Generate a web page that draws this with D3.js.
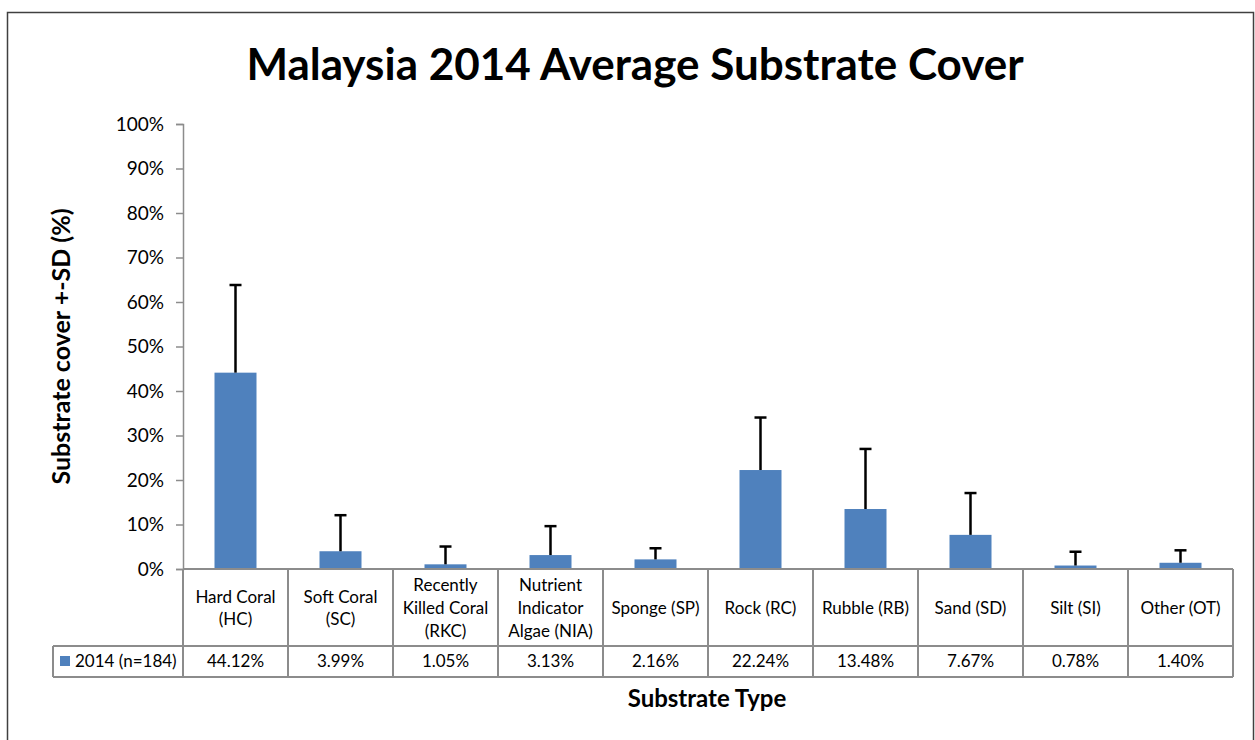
<!DOCTYPE html>
<html>
<head>
<meta charset="utf-8">
<script src="https://cdn.jsdelivr.net/npm/d3@7"></script>
<style>
  body { margin: 0; background: #fff; }
  text { font-family: Lato, "Open Sans", sans-serif; fill: #000; }
</style>
</head>
<body>
<div id="chart"></div>
<script>
    var svgWidth = 1255;
    var svgHeight = 740;

    // chart data
    var categories = ["Hard Coral\n(HC)", "Soft Coral\n(SC)", "Recently\nKilled Coral\n(RKC)",
      "Nutrient\nIndicator\nAlgae (NIA)", "Sponge (SP)", "Rock (RC)", "Rubble (RB)",
      "Sand (SD)", "Silt (SI)", "Other (OT)"];
    var seriesName = "2014 (n=184)";
    var meanValues = [44.12, 3.99, 1.05, 3.13, 2.16, 22.24, 13.48, 7.67, 0.78, 1.40];
    var sdValues = [19.7, 8.1, 4.0, 6.5, 2.5, 11.8, 13.5, 9.4, 3.1, 2.8];
    var yTicks = [0, 10, 20, 30, 40, 50, 60, 70, 80, 90, 100];

    var plot = { left: 183, right: 1233, top: 124, bottom: 569 };
    var table = { left: 53, rowSplit: 646, bottom: 677 };
    var gridColor = "#8c8c8c";
    var barColor = "#4f81bd";

    var svg = d3.select("#chart")
      .append("svg")
      .attr("width", svgWidth)
      .attr("height", svgHeight);

    // outer chart border
    svg.append("rect")
      .attr("x", 7.5)
      .attr("y", 12.5)
      .attr("width", 1246)
      .attr("height", 760)
      .attr("fill", "none")
      .attr("stroke", "#404040")
      .attr("stroke-width", 1.5);

    // title
    svg.append("text")
      .attr("x", 635)
      .attr("y", 80)
      .attr("text-anchor", "middle")
      .attr("font-size", "44px")
      .attr("font-weight", "bold")
      .text("Malaysia 2014 Average Substrate Cover");

    // scales
    var xCell = d3.scaleBand()
      .domain(categories)
      .range([plot.left, plot.right])
      .padding(0);

    var xBar = d3.scaleBand()
      .domain(categories)
      .range([plot.left, plot.right])
      .paddingInner(0.6)
      .paddingOuter(0.3);

    var yScale = d3.scaleLinear()
      .domain([0, 100])
      .range([plot.bottom, plot.top]);

    // y axis
    var leftAxis = d3.axisLeft(yScale)
      .tickValues(yTicks)
      .tickFormat(d => d + "%")
      .tickSizeInner(7)
      .tickSizeOuter(7)
      .tickPadding(12);

    var yAxis = svg.append("g")
      .attr("transform", `translate(${plot.left}, 0)`)
      .call(leftAxis);

    yAxis.selectAll("path, line")
      .attr("stroke", gridColor)
      .attr("stroke-width", 1.5);
    yAxis.selectAll("text")
      .attr("font-family", "Lato, sans-serif")
      .attr("font-size", "19px")
      .attr("fill", "#000");

    // y axis title
    svg.append("text")
      .attr("transform", `translate(70, ${(plot.top + plot.bottom) / 2}) rotate(-90)`)
      .attr("text-anchor", "middle")
      .attr("font-size", "25px")
      .attr("font-weight", "bold")
      .text("Substrate cover +-SD (%)");

    var data = categories.map((c, i) => ({ cat: c, mean: meanValues[i], sd: sdValues[i] }));

    // bars
    svg.append("g").selectAll("rect")
      .data(data)
      .enter()
      .append("rect")
      .attr("x", d => xBar(d.cat))
      .attr("y", d => yScale(d.mean))
      .attr("width", xBar.bandwidth())
      .attr("height", d => yScale(0) - yScale(d.mean))
      .attr("fill", barColor);

    // error bars (upper only)
    var errGroup = svg.append("g")
      .attr("stroke", "#000")
      .attr("stroke-width", 2.5);

    errGroup.selectAll(".stem")
      .data(data)
      .enter()
      .append("line")
      .attr("x1", d => xBar(d.cat) + xBar.bandwidth() / 2)
      .attr("x2", d => xBar(d.cat) + xBar.bandwidth() / 2)
      .attr("y1", d => yScale(d.mean))
      .attr("y2", d => yScale(d.mean + d.sd));

    errGroup.selectAll(".cap")
      .data(data)
      .enter()
      .append("line")
      .attr("x1", d => xBar(d.cat) + xBar.bandwidth() / 2 - 6)
      .attr("x2", d => xBar(d.cat) + xBar.bandwidth() / 2 + 6)
      .attr("y1", d => yScale(d.mean + d.sd))
      .attr("y2", d => yScale(d.mean + d.sd));

    ///////////////////////////////////////////////////////
    //////// data table under the axis ////////////////////
    ///////////////////////////////////////////////////////

    var grid = svg.append("g")
      .attr("stroke", gridColor)
      .attr("stroke-width", 2)
      .attr("fill", "none");

    // horizontal rules
    grid.append("line")
      .attr("x1", plot.left).attr("x2", plot.right)
      .attr("y1", plot.bottom).attr("y2", plot.bottom);
    grid.append("line")
      .attr("x1", table.left).attr("x2", plot.right)
      .attr("y1", table.rowSplit).attr("y2", table.rowSplit);
    grid.append("line")
      .attr("x1", table.left).attr("x2", plot.right)
      .attr("y1", table.bottom).attr("y2", table.bottom);

    // vertical rules
    var edges = categories.map(c => xCell(c)).concat([plot.right]);
    grid.selectAll(".vline")
      .data(edges)
      .enter()
      .append("line")
      .attr("x1", d => d).attr("x2", d => d)
      .attr("y1", plot.bottom).attr("y2", table.bottom);
    grid.append("line")
      .attr("x1", table.left).attr("x2", table.left)
      .attr("y1", table.rowSplit).attr("y2", table.bottom);

    // category headers
    var lineH = 22.7;
    var headers = svg.append("g").selectAll("text")
      .data(data)
      .enter()
      .append("text")
      .attr("text-anchor", "middle")
      .attr("font-size", "17px");

    headers.each(function(d) {
      var lines = d.cat.split("\n");
      var y0 = 614 - (lines.length - 1) * lineH / 2;
      var cx = xCell(d.cat) + xCell.bandwidth() / 2;
      d3.select(this).selectAll("tspan")
        .data(lines)
        .enter()
        .append("tspan")
        .attr("x", cx)
        .attr("y", (l, i) => y0 + i * lineH)
        .text(l => l);
    });

    // value row
    svg.append("g").selectAll("text")
      .data(data)
      .enter()
      .append("text")
      .attr("x", d => xCell(d.cat) + xCell.bandwidth() / 2)
      .attr("y", 667)
      .attr("text-anchor", "middle")
      .attr("font-size", "17px")
      .text(d => d.mean.toFixed(2) + "%");

    // legend key in table
    svg.append("rect")
      .attr("x", 60)
      .attr("y", 656)
      .attr("width", 10)
      .attr("height", 10)
      .attr("fill", barColor);
    svg.append("text")
      .attr("x", 75)
      .attr("y", 667)
      .attr("font-size", "17px")
      .text(seriesName);

    // x axis title
    svg.append("text")
      .attr("x", 707)
      .attr("y", 707)
      .attr("text-anchor", "middle")
      .attr("font-size", "24px")
      .attr("font-weight", "bold")
      .text("Substrate Type");
</script>
</body>
</html>
